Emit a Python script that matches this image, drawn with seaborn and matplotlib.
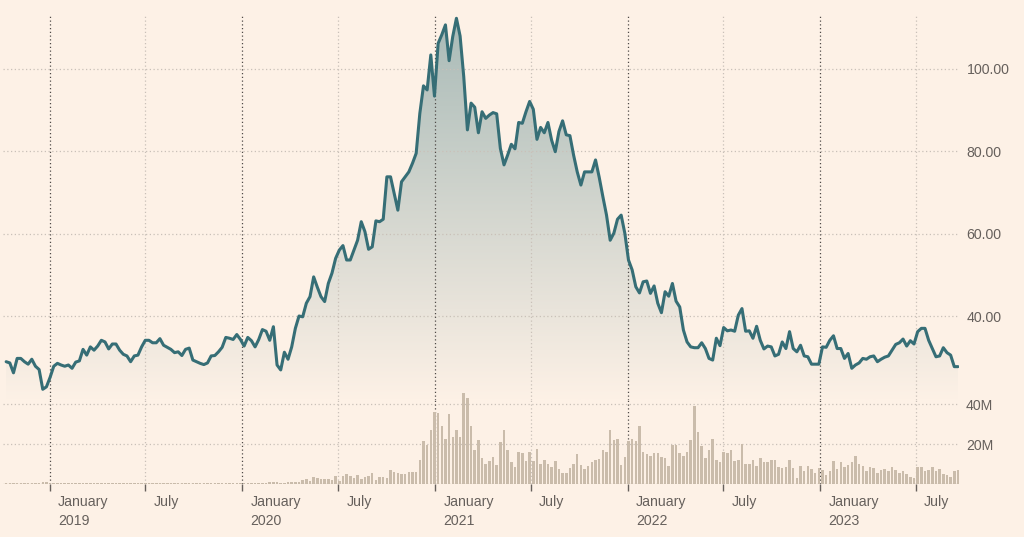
import numpy as np
import pandas as pd
import matplotlib
matplotlib.use("Agg")
import matplotlib.pyplot as plt
import matplotlib.dates as mdates
import matplotlib.transforms as mtransforms
from matplotlib.colors import LinearSegmentedColormap
import seaborn as sns

# ---------------- data (weekly) ----------------
start_date = "2018-10-10"
end_date = "2023-09-19"

price = [
    28.9, 28.6, 26.2, 29.7, 29.7, 28.9, 28.3, 29.5, 27.8, 27.0, 22.2, 22.8, 25.1, 27.8, 28.5, 28.1,
    27.8, 28.1, 27.3, 28.8, 29.1, 31.9, 30.5, 32.5, 31.7, 32.7, 34.1, 33.7, 32.0, 33.2, 33.2, 31.7,
    30.7, 30.3, 28.9, 30.3, 30.5, 32.5, 34.1, 34.1, 33.5, 33.5, 34.5, 32.9, 32.4, 31.9, 31.1, 31.3,
    30.4, 31.9, 32.2, 29.3, 28.9, 28.5, 28.2, 28.6, 30.3, 30.4, 31.3, 32.4, 34.8, 34.6, 34.3, 35.5,
    34.3,
    32.7, 34.8, 34.0, 32.5, 34.3, 36.7, 36.3, 34.1, 37.4, 28.1, 26.9, 31.2, 29.5, 32.5, 37.0, 40.0,
    39.8, 43.1, 44.7, 49.5, 47.0, 44.7, 43.5, 47.9, 50.4, 54.0, 56.0, 57.1, 53.6, 53.6, 56.0, 58.4,
    62.9, 60.5, 56.2, 56.8, 63.1, 62.9,
    63.5, 73.8, 73.8, 69.8, 65.7, 72.6, 73.8, 75.0, 77.1, 79.5, 89.2, 95.9, 94.9, 103.4, 93.4, 106.2,
    108.3, 110.7, 102.0, 107.9, 112.3, 108.0, 98.1, 85.2, 91.7, 90.7, 84.5, 89.6, 88.0, 88.8, 89.4,
    89.1, 80.7, 76.7, 79.1, 81.7, 80.6, 87.0, 86.8, 89.6, 92.1, 90.2, 82.9, 85.8, 84.5, 87.0, 82.7,
    79.9, 84.8, 87.4, 84.0, 83.8, 79.1, 75.0, 71.8, 75.0, 75.0, 75.0, 77.9, 73.7, 69.0, 64.5, 58.4,
    60.1, 63.5, 64.5, 60.1, 53.6, 51.2,
    47.1, 45.6, 48.3, 48.5, 45.5, 47.3, 43.1, 40.8, 45.9, 44.8, 47.9, 43.6, 42.2, 36.6, 33.7, 32.5,
    32.3, 32.3, 33.5, 32.1, 29.7, 29.3, 34.6, 32.8, 37.2, 36.4, 36.6, 36.3, 40.2, 41.8, 36.3, 36.4,
    34.6, 37.5, 34.1, 32.0, 32.7, 32.5, 30.3, 30.7, 33.7, 32.1, 36.2,
    32.1, 31.3, 32.9, 30.3, 30.1, 28.3, 28.3, 28.3, 32.5, 32.4, 34.1, 35.2, 32.1, 32.1, 29.7, 30.9,
    27.3, 28.1, 28.6, 29.7, 29.5, 30.1, 30.3, 28.9, 29.5, 30.0, 30.3, 31.7, 33.1, 33.5, 34.4, 32.7,
    34.0, 33.2, 36.2, 37.0, 37.0, 34.1, 32.1, 30.1, 30.3, 32.3, 31.1, 30.5, 27.7, 27.7,
]

# weekly volume, millions of shares
volume_m = [
    0.4, 0.3, 0.4, 0.5, 0.4, 0.5, 0.6, 0.5, 0.6, 0.7, 1.0, 0.8,
    0.5, 0.4, 0.4, 0.5, 0.4, 0.3, 0.4, 0.4, 0.3, 0.3,
    0.4, 0.5, 0.4, 0.3, 0.3, 0.4, 0.3, 0.3, 0.4, 0.3,
    0.3, 0.3, 0.4, 0.4, 0.3, 0.3, 0.4, 0.5, 0.4, 0.3,
    0.3, 0.4, 0.4, 0.4, 0.3, 0.3, 0.4, 0.3, 0.3, 0.4,
    0.4, 0.3, 0.3, 0.3, 0.4, 0.3, 0.3, 0.3, 0.4, 0.3,
    0.3, 0.3,
    0.3, 0.3, 0.4, 0.3, 0.4, 0.4, 0.5, 0.6, 0.8, 0.8, 0.9, 0.7, 0.6, 0.8, 1.1, 0.9,
    1.0, 2.2, 2.5, 1.3, 3.3, 3.0, 2.7, 2.7, 2.5, 2.2,
    3.8, 1.7, 3.8, 5.0, 3.8, 3.0, 4.3, 2.5, 3.3, 4.2,
    5.5, 2.2, 3.5, 3.3, 3.0, 7.2, 5.8, 5.5, 5.0, 5.0,
    6.2, 5.8, 5.8, 12.2, 21.3, 19.5, 27.2, 36.0, 35.5, 29.2,
    22.5, 35.2, 23.5, 27.2, 23.5, 45.5, 43.0, 29.2, 16.8, 22.0,
    13.0, 10.2, 11.7, 13.5, 9.7, 20.8, 27.2, 16.8, 11.0,
    8.3, 16.2, 15.7, 11.7, 16.2, 11.7, 17.7, 10.2, 12.2, 10.2,
    8.3, 11.7, 7.5, 5.5, 5.5, 8.0, 10.2, 14.8, 9.5, 7.5,
    8.8, 11.0, 12.2, 12.7, 17.0, 16.2, 27.2, 22.0, 22.5, 9.5,
    13.7, 21.5, 22.7, 21.5, 29.2, 16.2, 15.2, 14.2, 15.5, 15.5,
    13.5, 13.0, 9.0, 19.7, 19.7, 15.7, 14.2, 16.2, 22.0, 39.2,
    26.2, 18.8, 13.0, 16.8, 22.7, 12.2, 11.0, 16.2, 15.7, 16.8,
    11.7, 12.2, 20.0, 10.2, 10.2, 12.2, 8.8, 12.8, 11.0, 11.0,
    12.2, 12.2, 8.3, 7.8, 8.3, 12.2, 7.8, 3.0, 9.0, 6.3,
    9.0, 7.5, 5.5, 7.8, 7.2, 4.5, 6.3, 11.7, 7.5, 11.0,
    8.3, 9.5, 11.0, 14.2, 10.2, 9.0, 6.3, 8.3, 7.8, 5.5,
    7.0, 7.5, 6.3, 8.3, 7.0, 5.5, 6.3, 5.0, 3.7, 3.0,
    8.3, 8.3, 6.3, 7.2, 8.3, 6.3, 7.5, 5.0, 4.3, 3.7,
    6.3, 7.2,
]

price_ticks = [40, 60, 80, 100]
volume_ticks = [20, 40]
x_tick_dates = ["2019-01-01", "2019-07-01", "2020-01-01", "2020-07-01", "2021-01-01",
                "2021-07-01", "2022-01-01", "2022-07-01", "2023-01-01", "2023-07-01"]
x_tick_labels = ["January\n2019", "July", "January\n2020", "July", "January\n2021",
                 "July", "January\n2022", "July", "January\n2023", "July"]

# ---------------- styling ----------------
BG = "#fdf1e6"
LINE = "#366e76"
BAR = "#cabcab"
TEXT = "#66605c"
GRID = "#c9c0b8"
YEARLINE = "#4f4a47"

sns.set_theme(style="white")
plt.rcParams["font.family"] = ["Liberation Sans", "DejaVu Sans"]

df = pd.DataFrame({"date": pd.date_range(start_date, end_date, periods=len(price)),
                   "price": price})
dfv = pd.DataFrame({"date": pd.date_range(start_date, end_date, periods=len(volume_m)),
                    "volume": volume_m})

W, H = 1024, 537
fig = plt.figure(figsize=(W / 100, H / 100), dpi=100, facecolor=BG)
x0, x1 = 3 / W, 959 / W
ax = fig.add_axes([x0, 1 - 400 / H, x1 - x0, (400 - 15) / H])
axv = fig.add_axes([x0, 1 - 484 / H, x1 - x0, (484 - 400) / H], sharex=ax)
ax.set_facecolor(BG)
axv.set_facecolor("none")
for a in (ax, axv):
    for s in a.spines.values():
        s.set_visible(False)

xmin = pd.Timestamp("2018-10-04")
xmax = pd.Timestamp("2023-09-21")
pmin, pmax = 19.6, 113.1

# gradient fill below the price line
poly = ax.fill_between(df["date"], df["price"], pmin, color="none", lw=0)
cmap = LinearSegmentedColormap.from_list("fade", [BG, "#a8bab7"])
grad = np.linspace(0, 1, 256).reshape(-1, 1)
im = ax.imshow(grad, aspect="auto", cmap=cmap, origin="lower",
               extent=[mdates.date2num(xmin), mdates.date2num(xmax), pmin, pmax],
               zorder=1, interpolation="bilinear")
im.set_clip_path(poly.get_paths()[0], transform=ax.transData)

# price line
sns.lineplot(data=df, x="date", y="price", ax=ax, color=LINE, lw=2.2, zorder=5)

# volume bars (tallest ones rise slightly above the volume panel)
axv.bar(dfv["date"], dfv["volume"], width=4.8, color=BAR, zorder=3, lw=0, clip_on=False)

# grid lines
dots = (0, (1, 2))
for v in price_ticks:
    ax.axhline(v, color=GRID, lw=0.9, ls=dots, zorder=2)
for v in volume_ticks:
    axv.axhline(v, color=GRID, lw=0.9, ls=dots, zorder=2)
axv.axhline(0, color="#a9a29b", lw=0.9, ls=dots, zorder=4)

tick_dates = pd.to_datetime(x_tick_dates)
for d, lab in zip(tick_dates, x_tick_labels):
    c = YEARLINE if lab.startswith("January") else GRID
    for a in (ax, axv):
        a.axvline(d, color=c, lw=0.9, ls=dots, zorder=2)

ax.set_xlim(xmin, xmax)
ax.set_ylim(pmin, pmax)
axv.set_ylim(0, 42)

# price axis labels (right)
ax.yaxis.tick_right()
ax.set_yticks(price_ticks)
ax.set_yticklabels([f"{v:.2f}" for v in price_ticks])
ax.tick_params(axis="y", length=0, pad=5.5, labelsize=10.2, labelcolor=TEXT)
ax.tick_params(axis="x", length=0, labelbottom=False)
ax.set_xlabel("")
ax.set_ylabel("")

# volume axis labels (right)
axv.yaxis.tick_right()
axv.set_yticks(volume_ticks)
axv.set_yticklabels([f"{v}M" for v in volume_ticks])
axv.tick_params(axis="y", length=0, pad=5, labelsize=10.2, labelcolor=TEXT)

# x ticks
axv.set_xticks(tick_dates)
axv.set_xticklabels(x_tick_labels)
axv.tick_params(axis="x", length=5, width=1, color=TEXT, direction="out", pad=3,
                labelsize=10.2, labelcolor=TEXT, bottom=True)
offset = mtransforms.ScaledTranslation(0.08, 0, fig.dpi_scale_trans)
for lbl in axv.get_xticklabels():
    lbl.set_horizontalalignment("left")
    lbl.set_linespacing(1.45)
    lbl.set_transform(lbl.get_transform() + offset)
axv.set_xlabel("")
axv.set_ylabel("")

fig.savefig("out.png", dpi=100, facecolor=BG)
